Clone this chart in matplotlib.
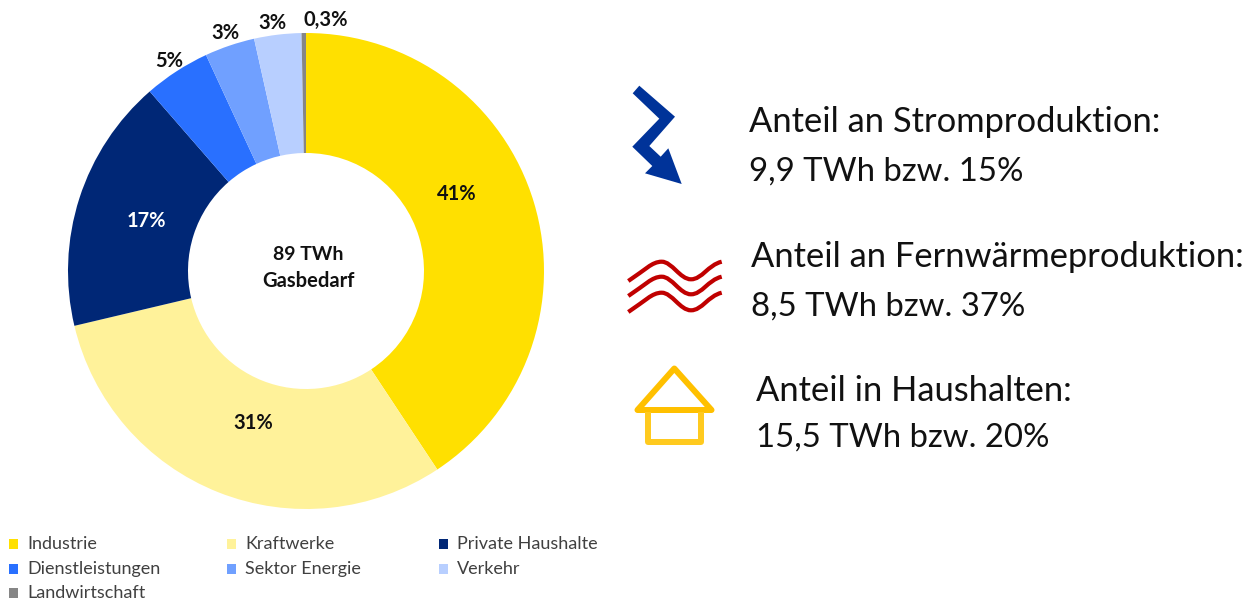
#!/usr/bin/env python3
"""Gas demand donut with three share callouts and icons."""

import matplotlib

matplotlib.use("Agg")
import matplotlib.pyplot as plt
from matplotlib.patches import PathPatch, Polygon, Rectangle
from matplotlib.path import Path

W, H = 1259, 601
FONT = "Lato"

sectors = ["Industrie", "Kraftwerke", "Private Haushalte", "Dienstleistungen",
           "Sektor Energie", "Verkehr", "Landwirtschaft"]
shares = [40.7, 30.6, 17.3, 4.5, 3.4, 3.2, 0.3]
share_labels = ["41%", "31%", "17%", "5%", "3%", "3%", "0,3%"]
colors = ["#FFE000", "#FFF29A", "#002776", "#2970FF", "#70A0FF", "#B8CFFF", "#868686"]
center_lines = ["89 TWh", "Gasbedarf"]
callouts = [
    "Anteil an Stromproduktion:", "9,9 TWh bzw. 15%",
    "Anteil an Fernwärmeproduktion:", "8,5 TWh bzw. 37%",
    "Anteil in Haushalten:", "15,5 TWh bzw. 20%",
]

# pixel positions, y counted from the top
label_pos = [(457, 194), (253, 423), (146, 221), (169, 61), (225, 33), (272, 23), (326, 20)]
label_colors = ["#111111", "#111111", "white", "#111111", "#111111", "#111111", "#111111"]
callout_pos = [(749, 122), (749, 172), (751, 257), (751, 307), (756, 391), (756, 438)]
callout_sizes = [24.8, 23.7, 24.8, 23.7, 24.8, 23.7]
legend_pos = [(9, 544), (227, 544), (439, 544), (9, 569), (227, 569), (439, 569), (9, 593)]

CX, CY, R, R_IN = 306, 271, 238, 118


def px(size):
    return size * 72 / 100


fig = plt.figure(figsize=(W / 100, H / 100), dpi=100)

# donut, axes placed so that one data unit is the outer radius
half = R * 1.05
pie_ax = fig.add_axes([(CX - half) / W, (H - CY - half) / H, 2 * half / W, 2 * half / H])
pie_ax.pie(shares, colors=colors, startangle=90, counterclock=False, radius=1.0,
           wedgeprops={"width": 1 - R_IN / R, "linewidth": 0})
pie_ax.set_xlim(-1.05, 1.05)
pie_ax.set_ylim(-1.05, 1.05)

# overlay in picture pixels for text and icons
ax = fig.add_axes([0, 0, 1, 1], facecolor="none")
ax.set_xlim(0, W)
ax.set_ylim(H, 0)
ax.axis("off")

for (x, y), text, color in zip(label_pos, share_labels, label_colors):
    ax.text(x, y, text, ha="center", va="center", fontsize=14.5, fontweight="bold",
            family=FONT, color=color)
ax.text(308, 254, center_lines[0], ha="center", va="center", fontsize=14,
        fontweight="bold", family=FONT, color="#111111")
ax.text(308, 281, center_lines[1], ha="center", va="center", fontsize=14.5,
        fontweight="bold", family=FONT, color="#111111")

for (x, y), text, size in zip(callout_pos, callouts, callout_sizes):
    ax.text(x, y, text, ha="left", va="center", fontsize=size, family=FONT, color="#111111")

for (x, y), name, color in zip(legend_pos, sectors, colors):
    ax.add_patch(Rectangle((x, y - 5), 9.5, 10, facecolor=color, edgecolor="none"))
    ax.text(x + 18, y, name, ha="left", va="center", fontsize=13, family=FONT, color="#404040")

# lightning arrow
bolt = [(632.7, 93.3), (639.3, 85.7), (675, 116.7), (649.3, 146), (660.7, 156.7),
        (668.3, 148.3), (681.7, 184), (645, 173.3), (652.3, 166), (632.3, 146.7),
        (659.3, 118.7)]
ax.add_patch(Polygon(bolt, closed=True, facecolor="#003399", edgecolor="none"))

# heat waves
for dy in (0, 15, 31):
    wave = [(628.3, 281 + dy), (645, 270 + dy), (652, 261.7 + dy), (661.7, 261.7 + dy),
            (672, 261.7 + dy), (680, 279.3 + dy), (691, 279.3 + dy),
            (702, 279.3 + dy), (708, 265 + dy), (721.7, 261.7 + dy)]
    codes = [Path.MOVETO] + [Path.CURVE4] * 9
    ax.add_patch(PathPatch(Path(wave, codes), facecolor="none", edgecolor="#C00000",
                           linewidth=px(4.2), capstyle="butt"))

# house
roof = [(674.3, 368.5), (637.5, 410), (711.5, 410)]
ax.add_patch(Polygon(roof, closed=True, facecolor="none", edgecolor="#FFC000",
                     linewidth=px(6), joinstyle="round"))
ax.plot([648.3, 648.3, 701, 701], [411.7, 442.3, 442.3, 411.7], color="#FFCA1F",
        linewidth=px(6), solid_joinstyle="round", solid_capstyle="butt")

fig.savefig("out.png", dpi=100)
